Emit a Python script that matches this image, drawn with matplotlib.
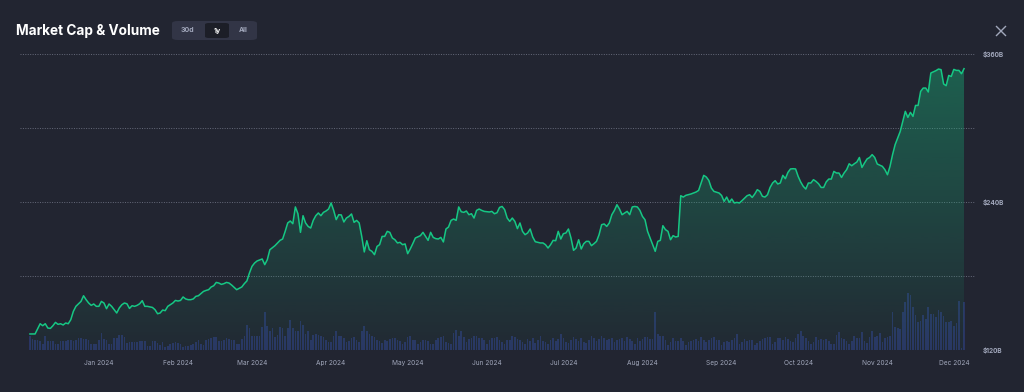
import numpy as np
import pandas as pd
import matplotlib
matplotlib.use("Agg")
import matplotlib.pyplot as plt
import matplotlib.dates as mdates
from matplotlib.colors import to_rgb
from matplotlib.patches import FancyBboxPatch
from matplotlib.lines import Line2D

# ---------------- data ----------------
start_date = "2023-12-05"

cap_days = [0, 2, 4, 5, 6, 7, 8, 9, 10, 11, 12, 13, 14, 15, 16, 17, 18, 20, 21, 22,
            23, 24, 25, 26, 27, 28, 29, 30, 31, 32, 33, 34, 35, 36, 37, 38, 39, 40, 41, 42,
            43, 44, 45, 46, 48, 49, 50, 51, 52, 53, 54, 55, 56, 57, 58, 59, 60, 61, 62, 63,
            64, 65, 66, 68, 69, 70, 71, 72, 73, 74, 75, 76, 77, 78, 79, 80, 81, 82, 83, 84,
            85, 86, 87, 88, 89, 91, 92, 93, 94, 96, 97, 98, 99, 100, 101, 102, 103, 104, 105, 106,
            107, 108, 109, 110, 111, 112, 113, 114, 115, 116, 117, 118, 119, 120, 121, 122, 123, 124, 125, 126,
            127, 128, 129, 130, 131, 132, 133, 134, 135, 136, 137, 138, 139, 140, 141, 142, 143, 144, 145, 146,
            147, 148, 149, 150, 151, 153, 154, 155, 156, 157, 158, 159, 160, 161, 162, 163, 164, 165, 166, 167,
            168, 169, 170, 171, 172, 173, 174, 175, 176, 177, 178, 180, 181, 182, 183, 184, 185, 186, 187, 188,
            189, 190, 191, 192, 193, 194, 195, 196, 197, 198, 199, 200, 201, 202, 203, 204, 205, 206, 207, 208,
            209, 210, 211, 212, 213, 214, 215, 216, 217, 218, 219, 220, 221, 222, 223, 224, 225, 226, 227, 228,
            229, 230, 231, 232, 233, 234, 235, 236, 237, 238, 239, 240, 241, 242, 243, 244, 245, 246, 247, 248,
            249, 250, 251, 252, 253, 254, 255, 256, 257, 259, 260, 261, 262, 263, 264, 265, 266, 267, 268, 270,
            271, 272, 273, 274, 275, 276, 277, 278, 279, 281, 282, 283, 284, 285, 286, 287, 288, 289, 290, 291,
            292, 293, 294, 295, 296, 297, 298, 299, 300, 301, 302, 303, 304, 305, 306, 307, 308, 309, 310, 311,
            312, 313, 314, 315, 316, 317, 318, 319, 320, 321, 322, 323, 324, 325, 326, 327, 328, 329, 330, 331,
            332, 334, 335, 336, 337, 338, 339, 340, 341, 342, 343, 344, 345, 346, 347, 348, 349, 350, 351, 352,
            353, 355, 356, 357, 358, 359, 360, 361, 362, 363, 364, 365, 366]

cap_values = [133.0, 133.0, 141.3, 139.7, 141.3, 137.8, 137.5, 139.7, 142.4, 140.8, 141.3, 140.3, 141.9, 141.3, 144.6, 151.3, 155.4, 159.4, 164.0, 160.8,
              158.1, 156.2, 157.3, 155.4, 155.4, 159.4, 158.1, 153.5, 157.3, 155.4, 152.7, 150.0, 154.1, 156.7, 158.1, 157.5, 153.7, 155.9, 155.4, 156.2,
              157.5, 160.0, 155.4, 155.4, 154.5, 152.7, 149.4, 150.0, 152.4, 151.9, 155.4, 156.7, 158.1, 160.2, 159.7, 160.2, 163.0, 161.4, 160.8, 160.8,
              161.4, 163.5, 164.0, 167.5, 168.3, 168.9, 171.1, 172.1, 174.8, 174.3, 173.2, 173.8, 174.8, 174.3, 172.7, 170.8, 168.9, 170.0, 171.1, 173.8,
              176.0, 182.4, 187.8, 190.5, 192.2, 193.8, 189.2, 193.2, 201.3, 204.6, 206.8, 208.9, 210.0, 216.2, 223.0, 224.6, 222.4, 236.0, 230.5, 215.4,
              228.9, 223.0, 220.2, 218.9, 225.1, 228.9, 231.1, 228.9, 231.6, 232.7, 234.3, 239.2, 233.2, 225.7, 229.7, 229.5, 223.8, 227.0, 228.3, 230.3,
              223.5, 225.1, 223.0, 212.1, 199.5, 208.6, 201.3, 200.0, 197.3, 204.0, 205.4, 212.1, 212.1, 216.2, 215.4, 210.8, 209.4, 206.8, 207.3, 205.4,
              206.0, 198.1, 201.9, 206.2, 210.8, 212.7, 215.4, 212.1, 208.9, 215.4, 211.3, 210.3, 210.0, 211.3, 207.6, 218.1, 219.7, 225.1, 226.2, 225.1,
              236.0, 232.1, 231.6, 232.7, 229.7, 230.5, 227.0, 233.2, 234.3, 233.2, 232.4, 231.9, 232.4, 230.5, 231.3, 235.6, 236.4, 233.8, 227.0, 224.3,
              227.0, 224.3, 218.4, 223.0, 216.2, 213.5, 214.9, 218.1, 211.6, 207.8, 207.3, 206.8, 206.8, 205.4, 202.7, 205.4, 208.9, 208.6, 216.2, 210.0,
              214.3, 214.9, 218.1, 210.8, 200.8, 202.7, 209.4, 201.9, 206.2, 208.1, 208.1, 204.6, 206.2, 208.1, 213.5, 221.6, 222.2, 220.2, 223.0, 229.7,
              233.2, 237.8, 234.3, 229.7, 231.1, 232.4, 229.7, 236.0, 236.4, 236.0, 233.2, 228.3, 225.6, 216.2, 210.8, 205.4, 200.0, 208.1, 208.9, 220.8,
              217.6, 216.2, 209.4, 212.7, 211.6, 212.1, 245.1, 244.0, 245.4, 246.5, 247.3, 248.1, 249.4, 255.4, 261.6, 260.3, 257.5, 251.3, 248.6, 247.3,
              245.3, 240.5, 244.0, 239.7, 242.4, 239.2, 239.7, 239.2, 241.1, 245.1, 245.9, 243.7, 246.5, 250.0, 248.6, 244.6, 244.0, 245.9, 251.8, 255.4,
              257.3, 254.6, 255.4, 261.6, 258.9, 264.0, 266.8, 267.0, 266.8, 260.8, 256.2, 252.7, 250.5, 255.4, 255.4, 258.1, 256.7, 254.8, 251.8, 251.8,
              256.3, 258.6, 258.6, 264.8, 263.5, 263.5, 259.9, 263.5, 266.2, 271.0, 269.4, 271.0, 272.4, 276.1, 268.0, 271.6, 274.9, 276.1, 278.4, 276.1,
              270.8, 268.9, 266.2, 262.1, 268.9, 278.4, 286.5, 291.9, 297.2, 305.4, 313.5, 308.6, 312.7, 309.4, 318.3, 318.3, 329.7, 332.4, 332.4, 329.2,
              344.6, 346.5, 347.8, 347.3, 335.7, 334.3, 342.6, 341.8, 347.5, 346.7, 346.7, 344.0, 348.1]

# daily traded volume (one value per day from start_date, arbitrary $B units)
vol_values = [14.3, 11, 10, 10, 8.7, 6, 14.3, 9.3,
              9.3, 8.7, 6, 6, 8.7, 8.7, 9.3, 10, 10, 8.7,
              10, 12, 12, 11, 11, 10, 6, 6, 6, 10,
              17, 11, 10, 6, 6, 12, 12, 15, 15, 12.7,
              6.7, 7.7, 7.7, 7.7, 7.7, 8.7, 8.7, 8.7, 4.3, 3.7,
              9.3, 9.3, 6.7, 5.3, 7.7, 2.7, 4.3, 6, 6.7, 7.7,
              6.7, 6, 2.7, 4.3, 4.3, 5.3, 6, 7.7, 10, 6,
              5.3, 10, 11, 12, 12.7, 13.3, 9.3, 9.3, 10, 12,
              11, 10, 10, 6, 6, 11, 14.3, 25.3, 21.7, 14.3,
              14.3, 14.3, 14.3, 23.3, 37.7, 24.3, 19.3, 21.7, 12.7, 15,
              22.7, 21.7, 14.3, 21.7, 30.3, 22, 19.3, 19.3, 28.7, 25.3,
              16, 19.3, 10, 15.3, 16, 15.3, 14.3, 12.7, 10,
              7.7, 7.7, 14.3, 19.3, 14.3, 14.3, 12, 7.7, 8.7, 12,
              12.7, 10, 7.7, 19.3, 24.3, 19.3, 16, 14.3, 12.7, 10,
              9.3, 6.7, 10, 8.7, 11, 12, 12, 10, 9.3, 6,
              7.7, 12.7, 14.3, 10, 10, 6, 7.7, 10, 10,
              9.3, 6, 6, 10, 12, 12.7, 14.3, 7.7, 6.7,
              6, 16.7, 20, 14.3, 19.3, 12.7, 7.7, 11, 12, 14.3,
              14.3, 12, 12, 10, 6, 10, 12, 12, 13.3, 10,
              7.7, 6, 10, 10, 14.3, 13.3, 11,
              10, 8, 6, 11, 9, 12, 7, 10, 14, 9, 8, 6, 10, 12, 9, 11,
              16, 12, 8, 7, 10, 13, 11, 9, 12, 8, 7, 10, 14, 12, 9, 11,
              14.3, 12, 10, 11, 12, 7.7, 10, 11, 12, 9.3,
              13.3, 11, 9.3, 6, 12, 9.3, 11, 12.7, 13.3, 11,
              11, 37.7, 16, 14.3, 14.3, 10, 5.3, 7.7, 12,
              8.7, 9.3, 12, 9.3, 5.3, 7.7, 8.7, 10, 11, 9.3,
              13.3, 10, 7.7, 10, 12, 13.3, 10, 10, 5.3, 7.7,
              8.7, 7.7, 10, 12, 16, 6, 7.7, 11, 9.3, 10,
              10, 5.3, 6.7, 9.3, 11, 12, 13.3, 13.3, 6,
              7.7, 12, 12, 10, 13.3, 11, 8.7, 7.7, 12, 16,
              18.7, 14.3, 12, 9.3, 6, 7.7, 13.3, 10, 11, 10,
              11, 9.3, 6, 6, 15.3, 17.7, 12, 11, 8.7, 6,
              9.3, 14.3, 12, 12, 17.7, 9.3, 6.7, 13.3, 18.7,
              13.3, 14.3, 16.7, 7.7, 12, 13.3, 14.3, 37.7, 23.3, 22,
              21, 37.7, 47.7, 56.7, 55.3, 42.7, 35.3, 27.7, 29.3, 35,
              31, 42.7, 36, 36, 33.3, 40, 37.7, 34.3, 27.7,
              27.7, 28.7, 24.3, 27, 48.7, 2, 47.7]

month_ticks = ["2024-01-01", "2024-02-01", "2024-03-01", "2024-04-01", "2024-05-01", "2024-06-01",
               "2024-07-01", "2024-08-01", "2024-09-01", "2024-10-01", "2024-11-01", "2024-12-01"]
month_labels = ["Jan 2024", "Feb 2024", "Mar 2024", "Apr 2024", "May 2024", "Jun 2024",
                "Jul 2024", "Aug 2024", "Sep 2024", "Oct 2024", "Nov 2024", "Dec 2024"]
grid_levels = [120, 180, 240, 300, 360]
label_levels = [120, 240, 360]
label_texts = ["$120B", "$240B", "$360B"]
title = "Market Cap & Volume"
range_buttons = ["30d", "1y", "All"]
active_button = "1y"

# ---------------- style ----------------
BG = "#222531"
GREEN = "#16c784"
BAR = "#2b3566"
GRID = "#666a7a"
TXT = "#a1a7bb"

plt.rcParams["font.family"] = ["Inter", "DejaVu Sans"]

fig = plt.figure(figsize=(10.24, 3.92), dpi=100)
fig.patch.set_facecolor(BG)

W, H = 1024, 392
left, right, top, bottom = 20, 975, 54, 350
ax2 = fig.add_axes([left / W, 1 - bottom / H, (right - left) / W, (bottom - top) / H])
ax = fig.add_axes([left / W, 1 - bottom / H, (right - left) / W, (bottom - top) / H])
ax.patch.set_alpha(0)
ax2.set_facecolor(BG)

start = pd.Timestamp(start_date)
cap_dates = start + pd.to_timedelta(cap_days, unit="D")
vol_dates = start + pd.to_timedelta(np.arange(len(vol_values)), unit="D")
xc = mdates.date2num(cap_dates)
xv = mdates.date2num(vol_dates)

x0 = xc[0] - 3.9
x1 = xc[-1] + 4.3
for a in (ax, ax2):
    a.set_xlim(x0, x1)
    for s in a.spines.values():
        s.set_visible(False)

# volume bars
ax2.bar(xv, vol_values, width=0.65, color=BAR, alpha=0.95, zorder=2, linewidth=0)
ax2.set_ylim(0, 296)
ax2.set_yticks([])
ax2.set_xticks([])

# market cap
ymin, ymax = grid_levels[0], grid_levels[-1]
ax.set_ylim(ymin, ymax)
poly = ax.fill_between(xc, cap_values, ymin, color="none", linewidth=0)
n = 256
rgba = np.zeros((n, 1, 4))
rgba[..., :3] = to_rgb(GREEN)
rgba[:, 0, 3] = np.linspace(0.38, 0.03, n)
im = ax.imshow(rgba, extent=[xc[0], xc[-1], ymin, ymax], aspect="auto", origin="upper", zorder=1)
im.set_clip_path(poly.get_paths()[0], transform=ax.transData)
ax.plot(xc, cap_values, color=GREEN, linewidth=1.1, zorder=3, solid_joinstyle="round")
ax.set_xlim(x0, x1)
ax.set_ylim(ymin, ymax)

for g in grid_levels:
    ax.axhline(g, color=GRID, linewidth=0.7, linestyle=(0, (1, 1.5)), zorder=0.5)

ax.set_yticks([])
ax.set_xticks(mdates.date2num(pd.to_datetime(month_ticks)))
ax.set_xticklabels(month_labels, fontsize=4.7, color=TXT)
ax.tick_params(axis="x", length=0, pad=7)

for lv, lt in zip(label_levels, label_texts):
    ax.text(1.008, (lv - ymin) / (ymax - ymin), lt, transform=ax.transAxes,
            fontsize=4.7, color=TXT, va="center", ha="left", fontweight="bold")

# title
fig.text(16 / W, 1 - 31 / H, title, fontsize=9.8, fontweight="bold", color="white",
         va="center", ha="left")

# range buttons
grp = FancyBboxPatch((172 / W, 1 - 40 / H), 85 / W, 19 / H,
                     boxstyle="round,pad=0,rounding_size=0.006", transform=fig.transFigure,
                     facecolor="#323546", edgecolor="none")
fig.add_artist(grp)
btn_x = [187, 217, 243]
for bx, bt in zip(btn_x, range_buttons):
    if bt == active_button:
        act = FancyBboxPatch(((bx - 12) / W, 1 - 38 / H), 24 / W, 15 / H,
                             boxstyle="round,pad=0,rounding_size=0.004", transform=fig.transFigure,
                             facecolor="#1c1e27", edgecolor="none")
        fig.add_artist(act)
        fig.text(bx / W, 1 - 30.5 / H, bt, fontsize=5, color="white", fontweight="bold",
                 ha="center", va="center")
    else:
        fig.text(bx / W, 1 - 30.5 / H, bt, fontsize=5, color=TXT, fontweight="bold",
                 ha="center", va="center")

# close icon
cx, cy, r = 1001, 31, 4.5
fig.add_artist(Line2D([(cx - r) / W, (cx + r) / W], [1 - (cy - r) / H, 1 - (cy + r) / H],
                      transform=fig.transFigure, color=TXT, linewidth=1.0))
fig.add_artist(Line2D([(cx - r) / W, (cx + r) / W], [1 - (cy + r) / H, 1 - (cy - r) / H],
                      transform=fig.transFigure, color=TXT, linewidth=1.0))

fig.savefig("out.png", dpi=100, facecolor=BG)
